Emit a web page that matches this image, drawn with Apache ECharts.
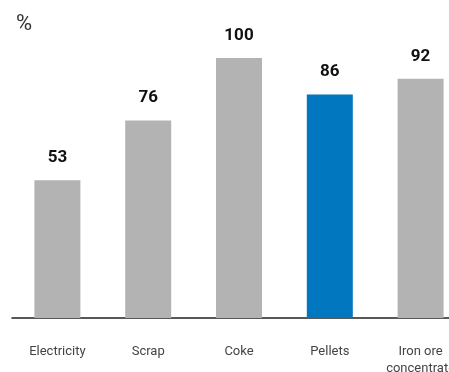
<!DOCTYPE html>
<html>
<head>
<meta charset="utf-8">
<script src="https://cdn.jsdelivr.net/npm/echarts@6/dist/echarts.min.js"></script>
<style>
  html, body { margin: 0; padding: 0; background: #fff; }
  #chart { width: 449px; height: 372px; }
</style>
</head>
<body>
<div id="chart"></div>
<script>
// 카테고리와 값
const categories = ['Electricity', 'Scrap', 'Coke', 'Pellets', 'Iron ore\nconcentrate']
const values = [53, 76, 100, 86, 92]
const highlight = 'Pellets'

const GRAY = '#b3b3b3'
const BLUE = '#0077be'

const chart = echarts.init(document.getElementById('chart'))

chart.setOption({
  animation: false,
  textStyle: { fontFamily: 'Roboto' },
  title: {
    text: '%',
    left: 11,
    top: 8,
    textStyle: { fontSize: 22, fontWeight: 'normal', color: '#333' },
  },
  grid: {
    left: 12,
    top: 58,
    width: 454,
    height: 260,
    outerBoundsMode: 'none',
  },
  xAxis: {
    type: 'category',
    data: categories,
    axisLine: { lineStyle: { color: '#222', width: 1.5 } },
    axisTick: { show: false },
    axisLabel: {
      color: '#444',
      fontSize: 13,
      margin: 25,
      lineHeight: 17,
      interval: 0,
    },
  },
  yAxis: {
    type: 'value',
    min: 0,
    max: 100,
    show: false,
  },
  series: [
    {
      type: 'bar',
      barWidth: 46,
      data: values.map((v, i) => ({
        value: v,
        itemStyle: { color: categories[i] === highlight ? BLUE : GRAY },
      })),
      label: {
        show: true,
        position: 'top',
        distance: 14,
        color: '#111',
        fontSize: 17,
        fontWeight: 'bold',
      },
    },
  ],
})
</script>
</body>
</html>
